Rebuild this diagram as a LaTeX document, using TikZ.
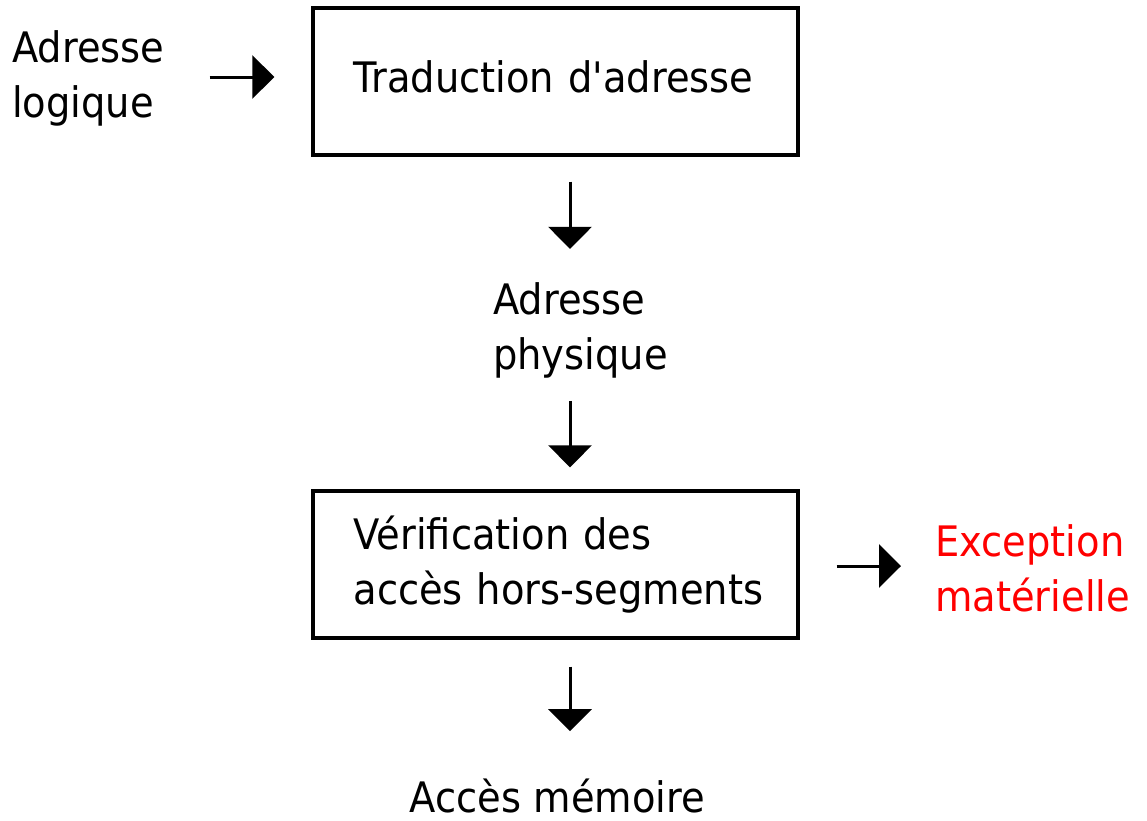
\documentclass[tikz,border=0pt]{standalone}
\usepackage{fontspec}
\setmainfont{DejaVu Sans}[FakeStretch=0.915, Ligatures=TeXOff]
\usetikzlibrary{arrows.meta}
\begin{document}
\begin{tikzpicture}[x=1pt,y=-1pt,
  every node/.style={font=\fontsize{42}{55}\selectfont, inner sep=0pt},
  stage/.style={draw, line width=3.3pt, minimum width=485pt, minimum height=147pt,
    text width=404pt, inner xsep=40.5pt, align=left},
  label/.style={align=left},
  flow/.style={line width=3pt, -{Triangle[length=22pt,width=43pt]}}]
\useasboundingbox (0,0) rectangle (1147,820);

% vertical line on which the downward arrows sit
\coordinate (col) at (570,0);

% multi-line labels are placed by the baseline of their last line
\node[label, anchor=base west] (logique) at (12,117) {Adresse\\logique};
\node[stage, text height=31pt, text depth=10pt] (trad) at (555.5,81.5) {\mbox{Traduction d'adresse}};
\node[label, anchor=base west] (physique) at (493,369) {Adresse\\physique};
\node[stage] (verif) at (555.5,564.5) {Vérification des\\\mbox{accès hors-segments}};
\node[label, anchor=base west, text=red] (exc) at (935,611) {Exception\\matérielle};
\node[anchor=base] (memoire) at (557.5,812) {Accès mémoire};

\draw[flow, shorten <=45pt, shorten >=37pt]
  ([yshift=4.5pt]logique.east |- trad.west) -- ([yshift=4.5pt]trad.west);
\draw[flow, shorten <=25pt, shorten >=33pt] (trad.south -| col) -- (physique.north -| col);
\draw[flow, shorten <=23pt, shorten >=22pt] (physique.south -| col) -- (verif.north -| col);
\draw[flow, shorten <=37pt, shorten >=34pt]
  ([yshift=-1.5pt]verif.east) -- ([yshift=-1.5pt]verif.east -| exc.west);
\draw[flow, shorten <=27pt, shorten >=47pt] (verif.south -| col) -- (memoire.north -| col);
\end{tikzpicture}
\end{document}
